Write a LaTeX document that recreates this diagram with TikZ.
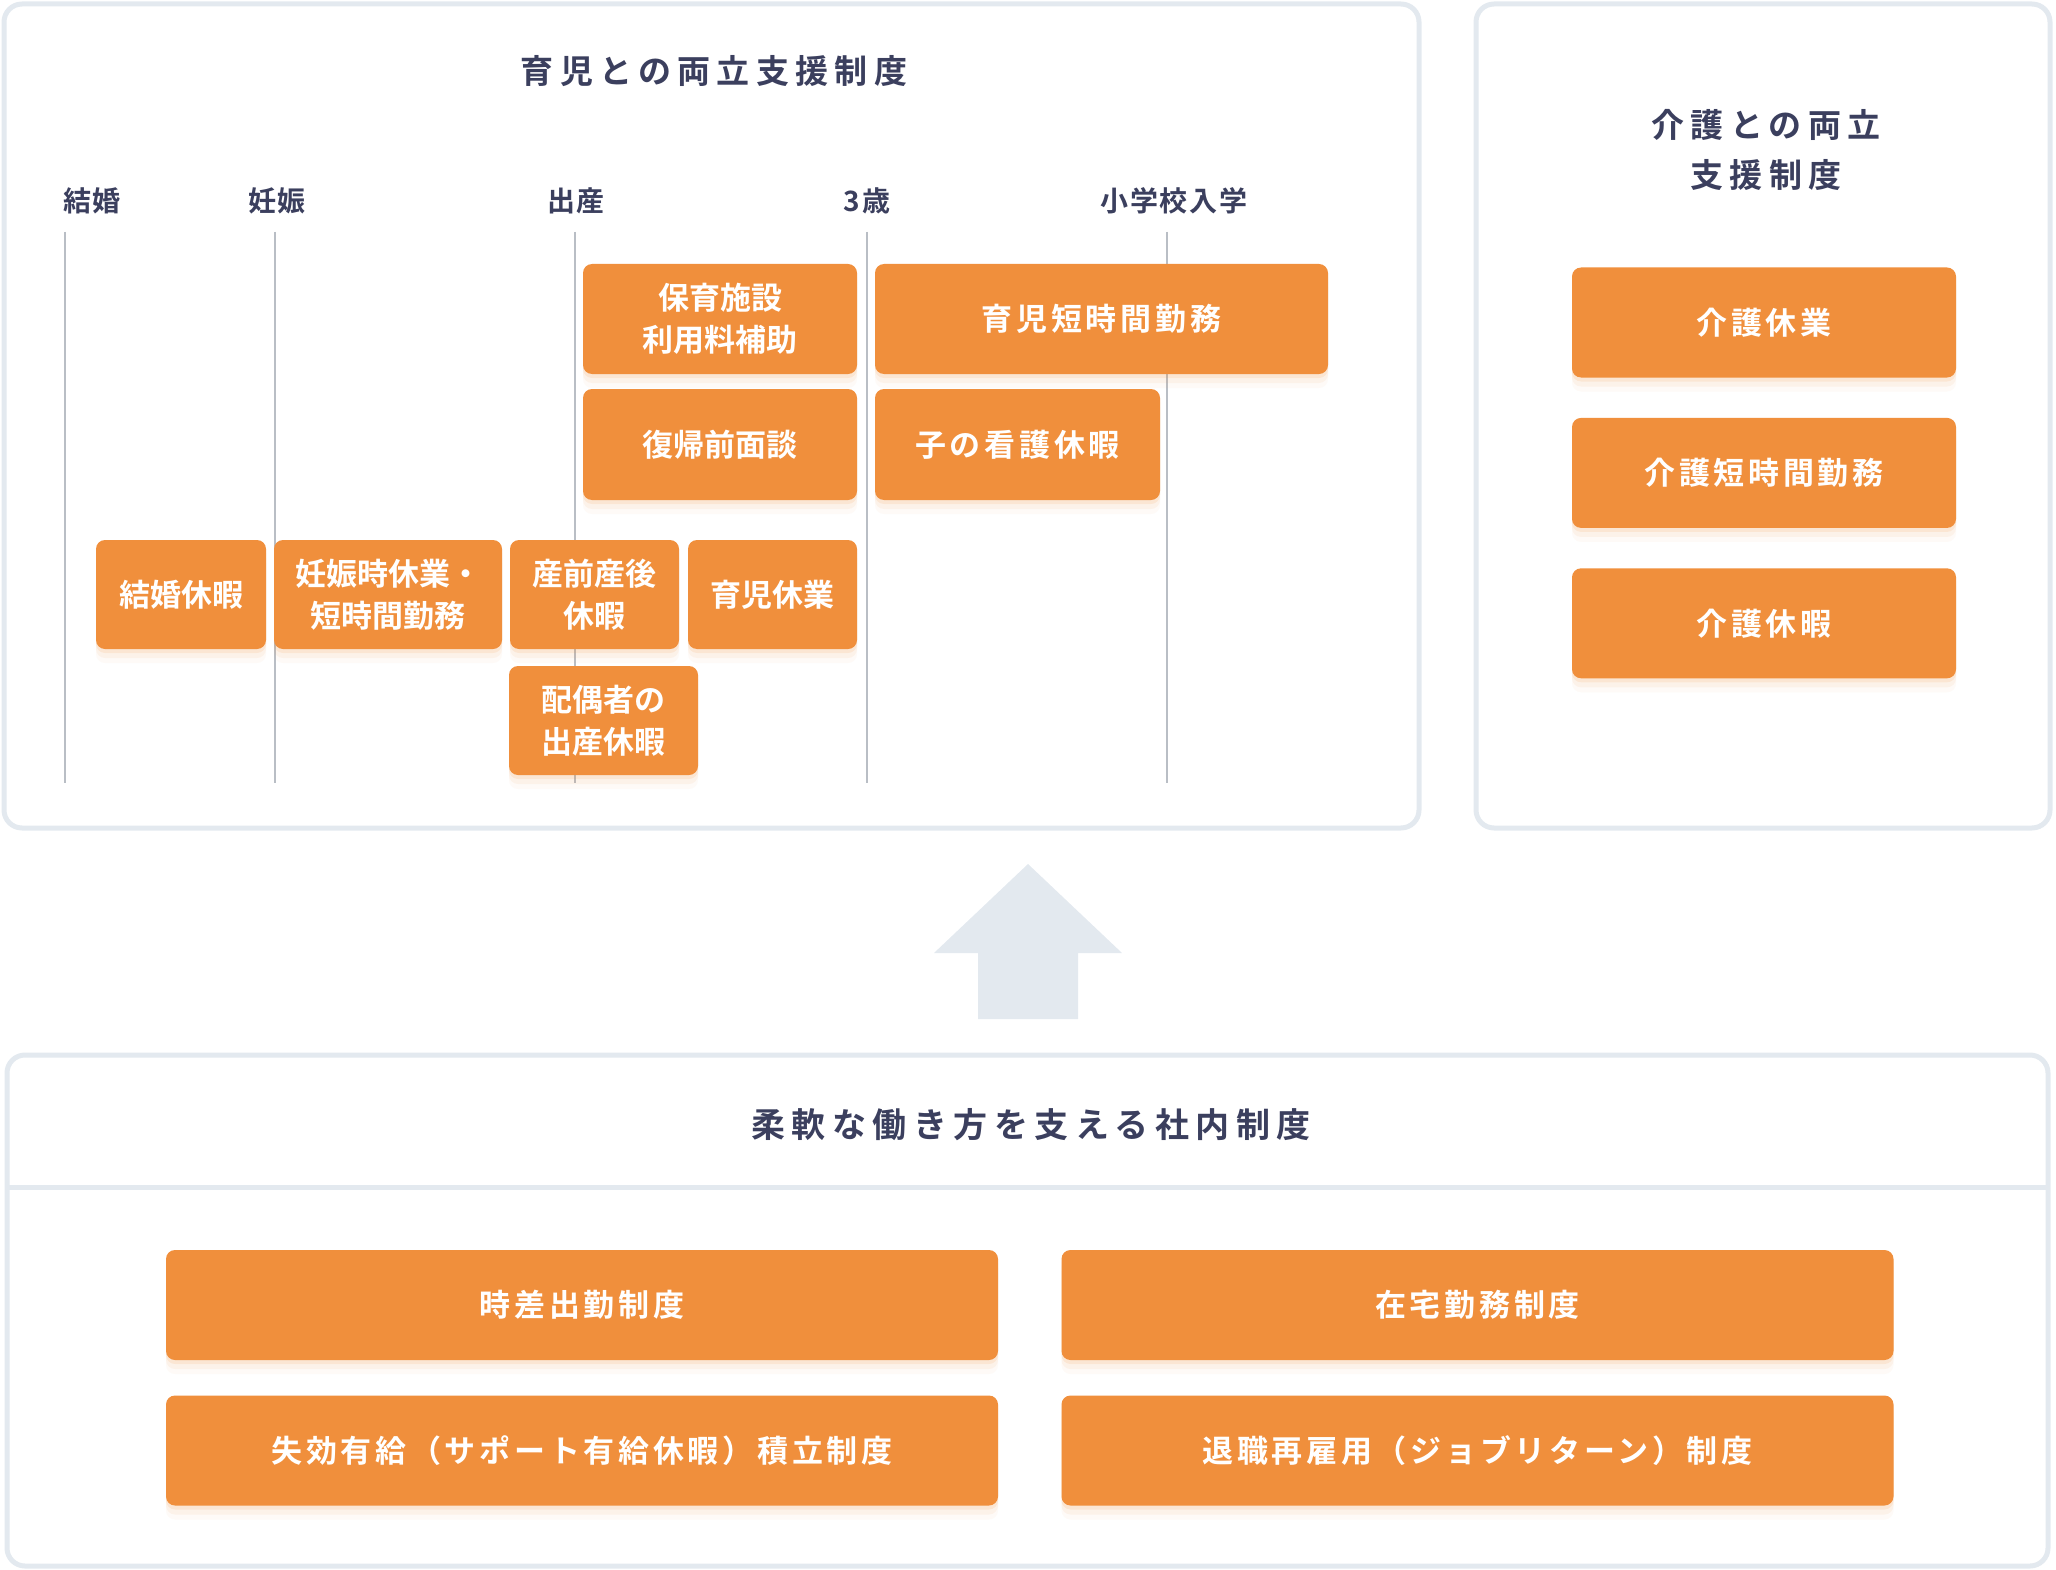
\documentclass[tikz,border=0pt]{standalone}
\usepackage{fontspec}
\setmainfont{Noto Sans CJK JP}[BoldFont={Noto Sans CJK JP Bold}]
\newfontfamily\headfont[LetterSpace=19]{Noto Sans CJK JP Bold}
\newfontfamily\boxfont{Noto Sans CJK JP Bold}
\newfontfamily\wideboxfont[LetterSpace=12]{Noto Sans CJK JP Bold}
\newfontfamily\markfont[LetterSpace=6]{Noto Sans CJK JP Bold}
\usetikzlibrary{shadows, positioning}

\definecolor{panelline}{HTML}{E3E9EF}
\definecolor{planorange}{HTML}{F08F3C}
\definecolor{inktext}{HTML}{3B3F5E}
\definecolor{ruleline}{HTML}{B9BEC5}

\begin{document}
\begin{tikzpicture}[x=1pt, y=-1pt,
    panel/.style={draw=panelline, line width=5pt, rounded corners=18pt, fill=white},
    plan/.style={rectangle, fill=planorange, rounded corners=9pt, text=white, align=center, inner sep=0pt,
        font=\boxfont\fontsize{31}{42}\selectfont,
        drop shadow={shadow xshift=0pt, shadow yshift=-4pt, fill=planorange, opacity=0.12},
        drop shadow={shadow xshift=0pt, shadow yshift=-9pt, fill=planorange, opacity=0.07},
        drop shadow={shadow xshift=0pt, shadow yshift=-14pt, fill=planorange, opacity=0.04}},
    wideplan/.style={plan, font=\wideboxfont\fontsize{31}{42}\selectfont},
    milestone/.style={text=inktext, font=\markfont\fontsize{28}{34}\selectfont, inner sep=0pt},
    heading/.style={text=inktext, font=\headfont\fontsize{33}{50}\selectfont, align=center, inner sep=0pt},
    ageline/.style={draw=ruleline, line width=1.5pt}]

    \useasboundingbox (0,0) rectangle (2056,1570);

    % Panels
    \draw[panel] (4,4) rectangle (1419,828);
    \draw[panel] (1476,4) rectangle (2050,828);
    \draw[panel] (7,1055) rectangle (2048,1566);
    \draw[panelline, line width=5pt] (7,1187) -- (2048,1187);

    % Headings
    \node[heading] (childcare) at (714,71) {育児との両立支援制度};
    \node[heading] (nursing) at (1766,150) {介護との両立\\支援制度};
    \node[heading, font=\headfont\fontsize{34}{50}\selectfont] (flexible) at (1031,1125) {柔軟な働き方を支える社内制度};

    % Life events along the timeline
    \node[milestone, anchor=west] (marriage) at (63,201) {結婚};
    \node[milestone] (pregnancy) at (277,201) {妊娠};
    \node[milestone] (birth) at (576,201) {出産};
    \node[milestone] (age3) at (867,201) {3歳};
    \node[milestone] (school) at (1174,201) {小学校入学};

    \coordinate (marriage top) at (65,232);   \coordinate (marriage end) at (65,783);
    \coordinate (pregnancy top) at (275,232); \coordinate (pregnancy end) at (275,783);
    \coordinate (birth top) at (575,232);     \coordinate (birth end) at (575,783);
    \coordinate (age3 top) at (867,232);      \coordinate (age3 end) at (867,783);
    \coordinate (school top) at (1167,232);   \coordinate (school end) at (1167,783);

    \draw[ageline] (marriage top) -- (marriage end);
    \draw[ageline] (pregnancy top) -- (pregnancy end);
    \draw[ageline] (birth top) -- (birth end);
    \draw[ageline] (age3 top) -- (age3 end);
    \draw[ageline] (school top) -- (school end);

    % Childcare support
    \node[plan, minimum width=274pt, minimum height=110pt] (daycare) at (720,319) {保育施設\\利用料補助};
    \node[wideplan, minimum width=453pt, minimum height=110pt] (shorthours) at (1101.5,319) {育児短時間勤務};
    \node[plan, minimum width=274pt, minimum height=111pt] (interview) at (720,444.5) {復帰前面談};
    \node[wideplan, minimum width=285pt, minimum height=111pt] (sickchild) at (1017.5,444.5) {子の看護休暇};

    \node[plan, minimum width=170pt, minimum height=109pt] (weddingleave) at (181,594.5) {結婚休暇};
    \node[plan, minimum width=228pt, minimum height=109pt] (pregnancyleave) at (388,594.5) {妊娠時休業・\\短時間勤務};
    \node[plan, minimum width=169pt, minimum height=109pt] (maternity) at (594.5,594.5) {産前産後\\休暇};
    \node[plan, minimum width=169pt, minimum height=109pt] (parental) at (772.5,594.5) {育児休業};
    \node[plan, minimum width=189pt, minimum height=109pt] (partner) at (603.5,720.5) {配偶者の\\出産休暇};

    % Nursing care support
    \node[wideplan, minimum width=384pt, minimum height=110pt] (careleave) at (1764,322.5) {介護休業};
    \node[wideplan, minimum width=384pt, minimum height=110pt, below=40pt of careleave] (careshort) {介護短時間勤務};
    \node[wideplan, minimum width=384pt, minimum height=110pt, below=40pt of careshort] (careday) {介護休暇};

    % Lift arrow
    \fill[panelline] (978,1019) -- (978,953) -- (934,953) -- (1028,864)
        -- (1122,953) -- (1078,953) -- (1078,1019) -- cycle;

    % Company-wide systems
    \node[wideplan, minimum width=832pt, minimum height=110pt] (staggered) at (582,1305) {時差出勤制度};
    \node[wideplan, minimum width=832pt, minimum height=110pt] (remote) at (1477.5,1305) {在宅勤務制度};
    \node[wideplan, minimum width=832pt, minimum height=110pt] (savedleave) at (582,1450.5) {失効有給（サポート有給休暇）積立制度};
    \node[wideplan, minimum width=832pt, minimum height=110pt] (jobreturn) at (1477.5,1450.5) {退職再雇用（ジョブリターン）制度};

\end{tikzpicture}
\end{document}
